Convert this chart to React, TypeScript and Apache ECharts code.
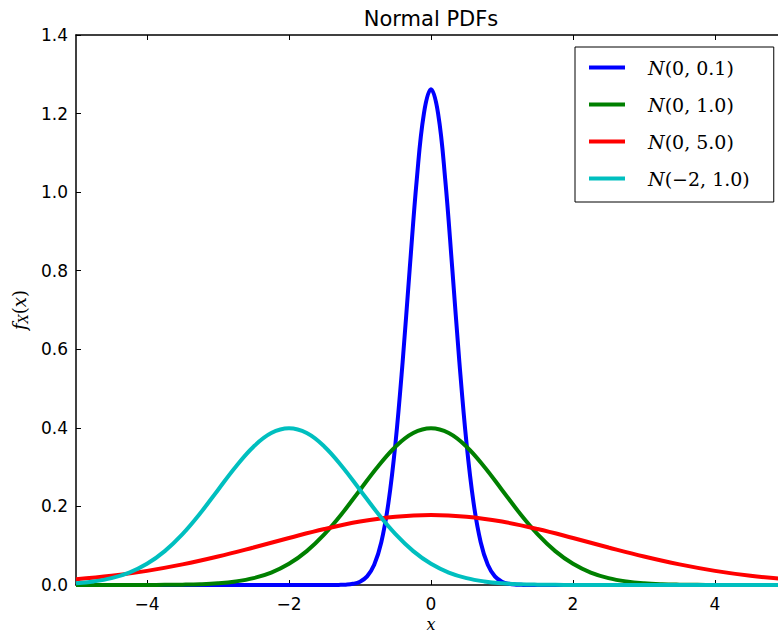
import React, { useEffect, useRef } from "react";
import * as echarts from "echarts";

// x positions and the curve heights at them
const xBlue = [-5, -1.5, -1.4, -1.3, -1.2, -1.1, -1.0, -0.9, -0.8, -0.7, -0.6, -0.5, -0.4, -0.3, -0.2, -0.1, 0, 0.1, 0.2, 0.3, 0.4, 0.5, 0.6, 0.7, 0.8, 0.9, 1.0, 1.1, 1.2, 1.3, 1.4, 1.5, 5];
const yBlue = [0, 0, 0.0001, 0.0003, 0.0009, 0.003, 0.0085, 0.022, 0.0514, 0.1089, 0.2085, 0.3614, 0.5669, 0.8044, 1.0329, 1.2, 1.2616, 1.2, 1.0329, 0.8044, 0.5669, 0.3614, 0.2085, 0.1089, 0.0514, 0.022, 0.0085, 0.003, 0.0009, 0.0003, 0.0001, 0, 0];

const xWide = [-5, -4.75, -4.5, -4.25, -4, -3.75, -3.5, -3.25, -3, -2.75, -2.5, -2.25, -2, -1.75, -1.5, -1.25, -1, -0.75, -0.5, -0.25, 0, 0.25, 0.5, 0.75, 1, 1.25, 1.5, 1.75, 2, 2.25, 2.5, 2.75, 3, 3.25, 3.5, 3.75, 4, 4.25, 4.5, 4.75, 5];
const yGreen = [0, 0, 0, 0, 0.0001, 0.0004, 0.0009, 0.002, 0.0044, 0.0091, 0.0175, 0.0317, 0.054, 0.0863, 0.1295, 0.1826, 0.242, 0.3011, 0.3521, 0.3867, 0.3989, 0.3867, 0.3521, 0.3011, 0.242, 0.1826, 0.1295, 0.0863, 0.054, 0.0317, 0.0175, 0.0091, 0.0044, 0.002, 0.0009, 0.0004, 0.0001, 0, 0, 0, 0];
const yCyan = [0.0044, 0.0091, 0.0175, 0.0317, 0.054, 0.0863, 0.1295, 0.1826, 0.242, 0.3011, 0.3521, 0.3867, 0.3989, 0.3867, 0.3521, 0.3011, 0.242, 0.1826, 0.1295, 0.0863, 0.054, 0.0317, 0.0175, 0.0091, 0.0044, 0.002, 0.0009, 0.0004, 0.0001, 0, 0, 0, 0, 0, 0, 0, 0, 0, 0, 0, 0];

const xRed = [-5, -4.5, -4, -3.5, -3, -2.5, -2, -1.5, -1, -0.5, 0, 0.5, 1, 1.5, 2, 2.5, 3, 3.5, 4, 4.5, 5];
const yRed = [0.0146, 0.0235, 0.036, 0.0524, 0.0725, 0.0955, 0.1196, 0.1425, 0.1614, 0.174, 0.1784, 0.174, 0.1614, 0.1425, 0.1196, 0.0955, 0.0725, 0.0524, 0.036, 0.0235, 0.0146];

const seriesNames = ["N(0, 0.1)", "N(0, 1.0)", "N(0, 5.0)", "N(-2, 1.0)"];
const legendRest = ["(0, 0.1)", "(0, 1.0)", "(0, 5.0)", "(\u22122, 1.0)"];
const seriesColors = ["#0000ff", "#008000", "#ff0000", "#00bfbf"];
const xTicks = [-4, -2, 0, 2, 4];

const zip = (xs: number[], ys: number[]) => xs.map((x, i) => [x, ys[i]]);

const SANS = "DejaVu Sans";
const SERIF = "DejaVu Serif";

export default function App() {
  const ref = useRef<HTMLDivElement>(null);
  useEffect(() => {
    if (!ref.current) return;
    const chart = echarts.init(ref.current, null, { renderer: "svg" });
    const datasets = [zip(xBlue, yBlue), zip(xWide, yGreen), zip(xRed, yRed), zip(xWide, yCyan)];
    const tickCommon = { show: true, inside: true, length: 5, lineStyle: { color: "#000", width: 1 } };
    chart.setOption({
      animation: false,
      backgroundColor: "#ffffff",
      title: {
        text: "Normal PDFs",
        left: 426,
        top: 3,
        textAlign: "center",
        textStyle: { fontFamily: SANS, fontSize: 21, fontWeight: "normal", color: "#000" },
      },
      legend: {
        orient: "vertical",
        left: 575,
        top: 47,
        padding: [11, 24, 14, 14],
        itemGap: 18,
        itemWidth: 36,
        itemHeight: 4,
        icon: "rect",
        borderColor: "#000",
        borderWidth: 1,
        backgroundColor: "#fff",
        data: seriesNames,
        formatter: (name: string) => {
          const i = seriesNames.indexOf(name);
          return "{c|N}{n|" + legendRest[i] + "}";
        },
        textStyle: {
          padding: [0, 0, 0, 18],
          rich: {
            c: { fontFamily: SERIF, fontStyle: "italic", fontSize: 19, color: "#000", lineHeight: 20 },
            n: { fontFamily: SERIF, fontSize: 19, color: "#000", lineHeight: 20 },
          },
        },
      },
      grid: { left: 76, right: 0, top: 35, bottom: 49, outerBoundsMode: "none" },
      xAxis: [
        {
          type: "value",
          min: -5,
          max: 5,
          position: "bottom",
          name: "x",
          nameLocation: "middle",
          nameGap: 31,
          nameTextStyle: { fontFamily: SERIF, fontStyle: "italic", fontSize: 16, color: "#000" },
          axisLine: { show: true, onZero: false, lineStyle: { color: "#000", width: 1.5 } },
          axisTick: { ...tickCommon, customValues: xTicks },
          axisLabel: {
            customValues: xTicks,
            margin: 10,
            fontFamily: SANS,
            fontSize: 17,
            color: "#000",
            formatter: (v: number) => (v < 0 ? "\u2212" + Math.abs(v) : String(v)),
          },
          splitLine: { show: false },
        },
        {
          type: "value",
          min: -5,
          max: 5,
          position: "top",
          axisLine: { show: true, onZero: false, lineStyle: { color: "#000", width: 1.5 } },
          axisTick: { ...tickCommon, customValues: xTicks },
          axisLabel: { show: false },
          splitLine: { show: false },
        },
      ],
      yAxis: [
        {
          type: "value",
          min: 0,
          max: 1.4,
          interval: 0.2,
          position: "left",
          name: "{f|f}{s|X}{n|(}{f|x}{n|)}",
          nameLocation: "middle",
          nameGap: 44,
          nameRotate: 90,
          nameTextStyle: {
            rich: {
              f: { fontFamily: SERIF, fontStyle: "italic", fontSize: 18, color: "#000" },
              s: { fontFamily: SERIF, fontStyle: "italic", fontSize: 13, color: "#000", verticalAlign: "bottom", padding: [8, 0, 0, 0] },
              n: { fontFamily: SERIF, fontSize: 18, color: "#000" },
            },
          },
          axisLine: { show: true, onZero: false, lineStyle: { color: "#000", width: 1.5 } },
          axisTick: tickCommon,
          axisLabel: {
            margin: 8,
            fontFamily: SANS,
            fontSize: 17,
            color: "#000",
            formatter: (v: number) => v.toFixed(1),
          },
          splitLine: { show: false },
        },
        {
          type: "value",
          min: 0,
          max: 1.4,
          interval: 0.2,
          position: "right",
          axisLine: { show: true, onZero: false, lineStyle: { color: "#000", width: 1.5 } },
          axisTick: tickCommon,
          axisLabel: { show: false },
          splitLine: { show: false },
        },
      ],
      series: seriesNames.map((name, i) => ({
        name,
        type: "line",
        data: datasets[i],
        smooth: 0.4,
        showSymbol: false,
        symbol: "none",
        clip: true,
        lineStyle: { color: seriesColors[i], width: 4 },
        itemStyle: { color: seriesColors[i] },
      })),
    });
    return () => chart.dispose();
  }, []);
  return <div ref={ref} style={{ position: "fixed", left: 0, top: 0, width: 786, height: 634 }} />;
}
